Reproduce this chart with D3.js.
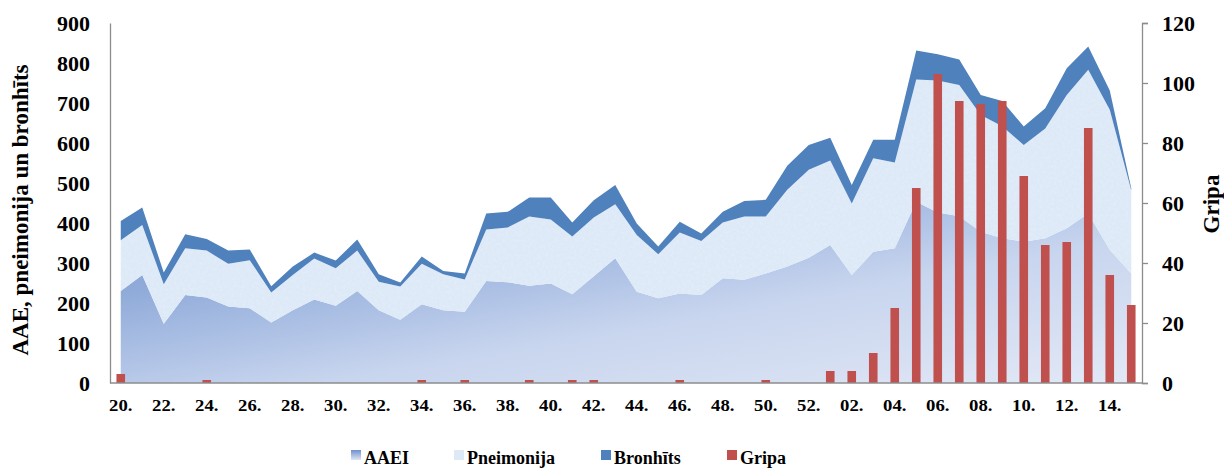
<!DOCTYPE html>
<html>
<head>
<meta charset="utf-8">
<script src="https://cdn.jsdelivr.net/npm/d3@7"></script>
<style>
  body { margin: 0; background: #fff; }
  text { font-family: "Liberation Serif", "Times New Roman", serif; font-weight: bold; fill: #000; }
</style>
</head>
<body>
<div id="container"></div>
<script>
// weeks 20..52, then 01..15
var weeks = ["20","21","22","23","24","25","26","27","28","29","30","31","32","33","34","35","36",
  "37","38","39","40","41","42","43","44","45","46","47","48","49","50","51","52",
  "01","02","03","04","05","06","07","08","09","10","11","12","13","14","15"];

var aaei = [230,270,148,220,214,191,187,151,182,209,193,230,182,158,197,182,178,255,252,243,
  249,222,267,312,228,212,224,220,262,258,274,291,313,345,270,328,337,453,426,417,
  378,362,353,362,387,424,333,274];
var pneimonija = [127,125,99,117,117,107,120,75,88,102,94,101,71,83,101,90,81,129,137,173,
  160,144,147,135,142,110,152,135,139,158,142,192,220,211,179,234,214,306,330,328,
  292,280,242,274,333,359,350,208];
var bronhits = [48,44,29,35,29,33,27,16,21,15,19,28,19,10,18,8,15,40,39,48,
  55,35,43,48,29,19,27,19,27,39,42,60,62,57,46,46,57,72,66,64,
  50,63,46,51,67,58,48,5];
var gripa = [3,0,0,0,1,0,0,0,0,0,0,0,0,0,1,0,1,0,0,1,
  0,1,1,0,0,0,1,0,0,0,1,0,0,4,4,10,25,65,103,94,
  93,94,69,46,47,85,36,26];

var leftTicks = [0,100,200,300,400,500,600,700,800,900];
var rightTicks = [0,20,40,60,80,100,120];
var keys = ["AAEI", "Pneimonija", "Bronhīts"];

var width = 1224, height = 468;
var x0 = 110, x1 = 1142, yTop = 23, yBot = 383;

var svg = d3.select("#container").append("svg")
    .attr("width", width)
    .attr("height", height);

var defs = svg.append("defs");
var grad = defs.append("linearGradient")
    .attr("id", "aaeiGrad")
    .attr("x1", 0).attr("y1", 0).attr("x2", 1).attr("y2", 1);
grad.selectAll("stop")
    .data([[0, "#7f9dd2"], [0.25, "#90abd9"], [0.45, "#b0c3e6"], [0.6, "#c8d5ee"], [1, "#e2e8f6"]])
    .enter().append("stop")
    .attr("offset", function(d) { return d[0]; })
    .attr("stop-color", function(d) { return d[1]; });

var lgrad = defs.append("linearGradient")
    .attr("id", "aaeiKey")
    .attr("x1", 0).attr("y1", 0).attr("x2", 0).attr("y2", 1);
lgrad.append("stop").attr("offset", 0).attr("stop-color", "#6f8fcc");
lgrad.append("stop").attr("offset", 1).attr("stop-color", "#dfe6f5");

// light speckled texture for pneimonija
var filt = defs.append("filter").attr("id", "speckle").attr("x", 0).attr("y", 0).attr("width", 1).attr("height", 1);
filt.append("feTurbulence").attr("type", "fractalNoise").attr("baseFrequency", 0.35).attr("numOctaves", 2).attr("seed", 3).attr("result", "noise");
filt.append("feColorMatrix").attr("in", "noise").attr("type", "matrix")
    .attr("values", "0 0 0 0 0.78  0 0 0 0 0.85  0 0 0 0 0.95  0 0 0 -1.6 1.0").attr("result", "tint");
filt.append("feComposite").attr("in", "tint").attr("in2", "SourceGraphic").attr("operator", "in").attr("result", "tx");
filt.append("feMerge").selectAll("feMergeNode").data(["SourceGraphic", "tx"]).enter()
    .append("feMergeNode").attr("in", function(d) { return d; });

var x = d3.scaleBand().domain(weeks).range([x0, x1]);
var yL = d3.scaleLinear().domain([0, 900]).range([yBot, yTop]);
var yR = d3.scaleLinear().domain([0, 120]).range([yBot, yTop]);

var rows = weeks.map(function(w, i) {
  return { week: w, "AAEI": aaei[i], "Pneimonija": pneimonija[i], "Bronhīts": bronhits[i] };
});
var series = d3.stack().keys(keys)(rows);

var fills = { "AAEI": "url(#aaeiGrad)", "Pneimonija": "#dde9f7", "Bronhīts": "#4f81bd" };

var area = d3.area()
    .x(function(d) { return x(d.data.week) + x.bandwidth() / 2; })
    .y0(function(d) { return yL(d[0]); })
    .y1(function(d) { return yL(d[1]); });

svg.append("g").selectAll("path")
    .data(series)
    .enter().append("path")
    .attr("d", area)
    .attr("fill", function(d) { return fills[d.key]; })
    .attr("filter", function(d) { return d.key == "Pneimonija" ? "url(#speckle)" : null; });

// gripa bars on the right axis
var bw = 8.6;
svg.append("g").selectAll("rect")
    .data(gripa)
    .enter().append("rect")
    .attr("x", function(d, i) { return x(weeks[i]) + x.bandwidth() / 2 - bw / 2; })
    .attr("y", function(d) { return yR(d); })
    .attr("width", bw)
    .attr("height", function(d) { return yBot - yR(d); })
    .attr("fill", "#c0504d");

// axes
var axisColor = "#8c8c8c";
var gl = svg.append("g").attr("transform", "translate(" + x0 + ",0)")
    .call(d3.axisLeft(yL).tickValues(leftTicks).tickSize(0).tickPadding(20));
var gr = svg.append("g").attr("transform", "translate(" + x1 + ",0)")
    .call(d3.axisRight(yR).tickValues(rightTicks).tickSize(6).tickPadding(14));
var gb = svg.append("g").attr("transform", "translate(0," + yBot + ")")
    .call(d3.axisBottom(x).tickSize(0).tickPadding(17)
      .tickFormat(function(d, i) { return i % 2 == 0 ? d + "." : ""; }));

[gl, gr, gb].forEach(function(g) {
  g.select(".domain").attr("stroke", axisColor).attr("stroke-width", 1.3);
  g.selectAll(".tick line").attr("stroke", axisColor).attr("stroke-width", 1.3);
  g.selectAll("text").attr("font-family", null).style("fill", "#000");
});
gl.selectAll("text").attr("font-size", "22px");
gr.selectAll("text").attr("font-size", "22px");
gb.selectAll("text").attr("font-size", "16px").attr("transform", "scale(1.17,1)");
gb.select(".domain").attr("d", "M" + x0 + ",0H" + x1);

// axis titles
svg.append("text")
    .attr("transform", "translate(28,210) rotate(-90)")
    .attr("text-anchor", "middle")
    .attr("font-size", "23px")
    .text("AAE, pneimonija un bronhīts");

svg.append("text")
    .attr("transform", "translate(1219,204) rotate(-90)")
    .attr("text-anchor", "middle")
    .attr("font-size", "23px")
    .text("Gripa");

// legend
var legend = [
  { name: "AAEI", x: 351, fill: "url(#aaeiKey)" },
  { name: "Pneimonija", x: 454, fill: "#dde9f7" },
  { name: "Bronhīts", x: 601, fill: "#4f81bd" },
  { name: "Gripa", x: 727, fill: "#c0504d" }
];
var lg = svg.append("g").selectAll("g")
    .data(legend)
    .enter().append("g");
lg.append("rect")
    .attr("x", function(d) { return d.x; })
    .attr("y", 450)
    .attr("width", 10)
    .attr("height", 10)
    .attr("fill", function(d) { return d.fill; });
lg.append("text")
    .attr("x", function(d) { return d.x + 13; })
    .attr("y", 464)
    .attr("font-size", "18px")
    .text(function(d) { return d.name; });
</script>
</body>
</html>
